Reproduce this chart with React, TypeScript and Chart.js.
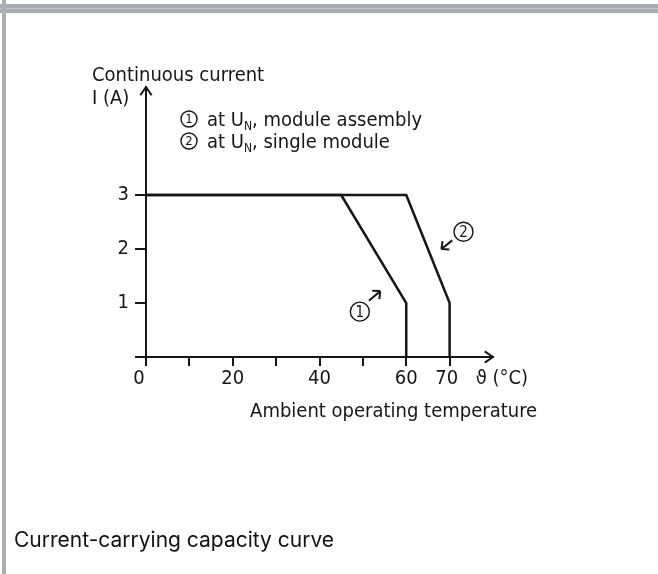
import React, { useEffect, useRef } from "react";
import { Chart, registerables } from "chart.js";

Chart.register(...registerables);

// ---- data ----
const assemblyTemps = [0, 45, 60, 60];
const assemblyCurrents = [3, 3, 1, 0];
const singleTemps = [0, 60, 70, 70];
const singleCurrents = [3, 3, 1, 0];

const xTickValues = [0, 10, 20, 30, 40, 50, 60, 70];
const xTickLabels = ["0", "", "20", "", "40", "", "60", "70"];
const yTickValues = [0, 1, 2, 3];
const yTickLabels = ["", "1", "2", "3"];

const yTitleLines = ["Continuous current", "I (A)"];
const xTitle = "Ambient operating temperature";
const xUnit = "\u03D1 (\u00B0C)";
const legendNumbers = ["1", "2"];
const legendTexts = [", module assembly", ", single module"];
const caption = "Current-carrying capacity curve";

// curve markers in data units: [circle x, circle y, arrow from x, y, arrow to x, y]
const markerNumbers = ["1", "2"];
const markerAnchors = [
  [49.3, 0.84, 51.4, 1.04, 54.0, 1.22],
  [73.2, 2.32, 70.6, 2.16, 68.1, 2.0],
];

const X_MAX = 80;
const Y_MAX = 5;
const INK = "#161616";
const FONT = "'Liberation Sans Narrow', 'DejaVu Sans Condensed', 'Liberation Sans', sans-serif";
const FS = 20;

function chevron(ctx: CanvasRenderingContext2D, tx: number, ty: number, angle: number, len: number, spread: number) {
  ctx.beginPath();
  for (const s of [-1, 1]) {
    const a = angle + Math.PI + s * spread;
    ctx.moveTo(tx + Math.cos(a) * len, ty + Math.sin(a) * len);
    ctx.lineTo(tx, ty);
  }
  ctx.stroke();
}

function circledDigit(ctx: CanvasRenderingContext2D, cx: number, cy: number, r: number, d: string) {
  ctx.beginPath();
  ctx.arc(cx, cy, r, 0, Math.PI * 2);
  ctx.lineWidth = 1.4;
  ctx.stroke();
  ctx.font = `${Math.round(r * 1.6)}px ${FONT}`;
  ctx.textAlign = "center";
  ctx.textBaseline = "middle";
  ctx.fillText(d, cx, cy + 1);
}

const overlayPlugin = {
  id: "overlay",
  afterDraw(chart: any) {
    const { ctx } = chart;
    const xs = chart.scales.x;
    const ys = chart.scales.y;
    const x0 = xs.getPixelForValue(0);
    const y0 = ys.getPixelForValue(0);
    ctx.save();
    ctx.strokeStyle = INK;
    ctx.fillStyle = INK;
    ctx.lineWidth = 2;
    ctx.lineCap = "butt";
    // axis arrows
    chevron(ctx, x0, ys.getPixelForValue(Y_MAX), -Math.PI / 2, 10, 0.6);
    chevron(ctx, xs.getPixelForValue(X_MAX), y0, 0, 10, 0.6);

    // x tick labels
    ctx.font = `${FS}px ${FONT}`;
    ctx.textBaseline = "top";
    ctx.textAlign = "center";
    xTickValues.forEach((v, i) => {
      const lab = xTickLabels[i];
      if (!lab) return;
      let px = xs.getPixelForValue(v);
      if (i === 0) px -= 7;
      if (i === xTickValues.length - 1) px -= 3;
      ctx.fillText(lab, px, y0 + 12);
    });
    // unit
    ctx.textAlign = "left";
    ctx.fillText(xUnit, xs.getPixelForValue(70) + 26, y0 + 12);
    // x title
    ctx.fillText(xTitle, xs.getPixelForValue(24), y0 + 45);

    // y title
    ctx.textBaseline = "alphabetic";
    ctx.fillText(yTitleLines[0], 92, 81);
    ctx.fillText(yTitleLines[1], 92, 104);

    // legend
    legendNumbers.forEach((n, i) => {
      const cy = 119 + i * 22;
      ctx.fillStyle = INK;
      ctx.strokeStyle = INK;
      circledDigit(ctx, 189, cy, 8, n);
      ctx.textAlign = "left";
      ctx.textBaseline = "alphabetic";
      ctx.font = `${FS}px ${FONT}`;
      const bx = 207;
      const by = cy + 7;
      ctx.fillText("at U", bx, by);
      let w = ctx.measureText("at U").width;
      ctx.font = `12px ${FONT}`;
      ctx.fillText("N", bx + w, by + 4);
      w += ctx.measureText("N").width;
      ctx.font = `${FS}px ${FONT}`;
      ctx.fillText(legendTexts[i], bx + w, by);
    });

    // curve markers
    markerAnchors.forEach((m, i) => {
      const cx = xs.getPixelForValue(m[0]);
      const cy = ys.getPixelForValue(m[1]);
      circledDigit(ctx, cx, cy, 9.5, markerNumbers[i]);
      const fx = xs.getPixelForValue(m[2]);
      const fy = ys.getPixelForValue(m[3]);
      const tx = xs.getPixelForValue(m[4]);
      const ty = ys.getPixelForValue(m[5]);
      ctx.lineWidth = 2;
      ctx.beginPath();
      ctx.moveTo(fx, fy);
      ctx.lineTo(tx, ty);
      ctx.stroke();
      chevron(ctx, tx, ty, Math.atan2(ty - fy, tx - fx), 8, 0.75);
    });
    ctx.restore();
  },
};

export default function App() {
  const ref = useRef<HTMLCanvasElement | null>(null);
  useEffect(() => {
    const canvas = ref.current;
    if (!canvas) return;
    const chart = new Chart(canvas, {
      type: "scatter",
      data: {
        datasets: [
          {
            label: "module assembly",
            data: assemblyTemps.map((t, i) => ({ x: t, y: assemblyCurrents[i] })),
            showLine: true,
            borderColor: INK,
            borderWidth: 2.5,
            pointRadius: 0,
            tension: 0,
            fill: false,
          },
          {
            label: "single module",
            data: singleTemps.map((t, i) => ({ x: t, y: singleCurrents[i] })),
            showLine: true,
            borderColor: INK,
            borderWidth: 2.5,
            pointRadius: 0,
            tension: 0,
            fill: false,
          },
        ],
      },
      options: {
        responsive: false,
        animation: false,
        events: [],
        layout: { padding: { left: 0, right: 165, top: 87, bottom: 157 } },
        plugins: { legend: { display: false }, tooltip: { enabled: false }, title: { display: false } },
        scales: {
          x: {
            type: "linear",
            min: 0,
            max: X_MAX,
            afterBuildTicks: (s: any) => {
              s.ticks = xTickValues.map((v) => ({ value: v }));
            },
            afterFit: (s: any) => {
              s.height = 60;
            },
            grid: { drawOnChartArea: false, drawTicks: true, tickLength: 9, color: INK, lineWidth: 2 },
            border: { display: true, color: INK, width: 2 },
            ticks: { display: false },
          },
          y: {
            type: "linear",
            min: 0,
            max: Y_MAX,
            afterBuildTicks: (s: any) => {
              s.ticks = yTickValues.map((v) => ({ value: v }));
            },
            afterFit: (s: any) => {
              s.width = 146;
            },
            grid: { drawOnChartArea: false, drawTicks: true, tickLength: 11, color: INK, lineWidth: 2 },
            border: { display: true, color: INK, width: 2 },
            ticks: {
              color: INK,
              padding: 6,
              font: { family: FONT, size: FS },
              callback: (_v: any, i: number) => yTickLabels[i],
            },
          },
        },
      },
      plugins: [overlayPlugin],
    });
    return () => chart.destroy();
  }, []);

  return (
    <div style={{ position: "fixed", left: 0, top: 0, width: 658, height: 574, background: "#fff", overflow: "hidden" }}>
      <div style={{ position: "absolute", left: 0, top: 4, width: 658, height: 9, background: "#a9abb0" }} />
      <div style={{ position: "absolute", left: 0, top: 8, width: 658, height: 1, background: "#c3c5c9" }} />
      <div style={{ position: "absolute", left: 2, top: 0, width: 4, height: 574, background: "#adafb4" }} />
      <canvas ref={ref} width={658} height={574} style={{ position: "absolute", left: 0, top: 0 }} />
      <div
        style={{
          position: "absolute",
          left: 14,
          top: 527,
          fontFamily: "Inter, 'Noto Sans', sans-serif",
          fontSize: 21,
          lineHeight: "26px",
          color: "#111",
          whiteSpace: "nowrap",
        }}
      >
        {caption}
      </div>
    </div>
  );
}
